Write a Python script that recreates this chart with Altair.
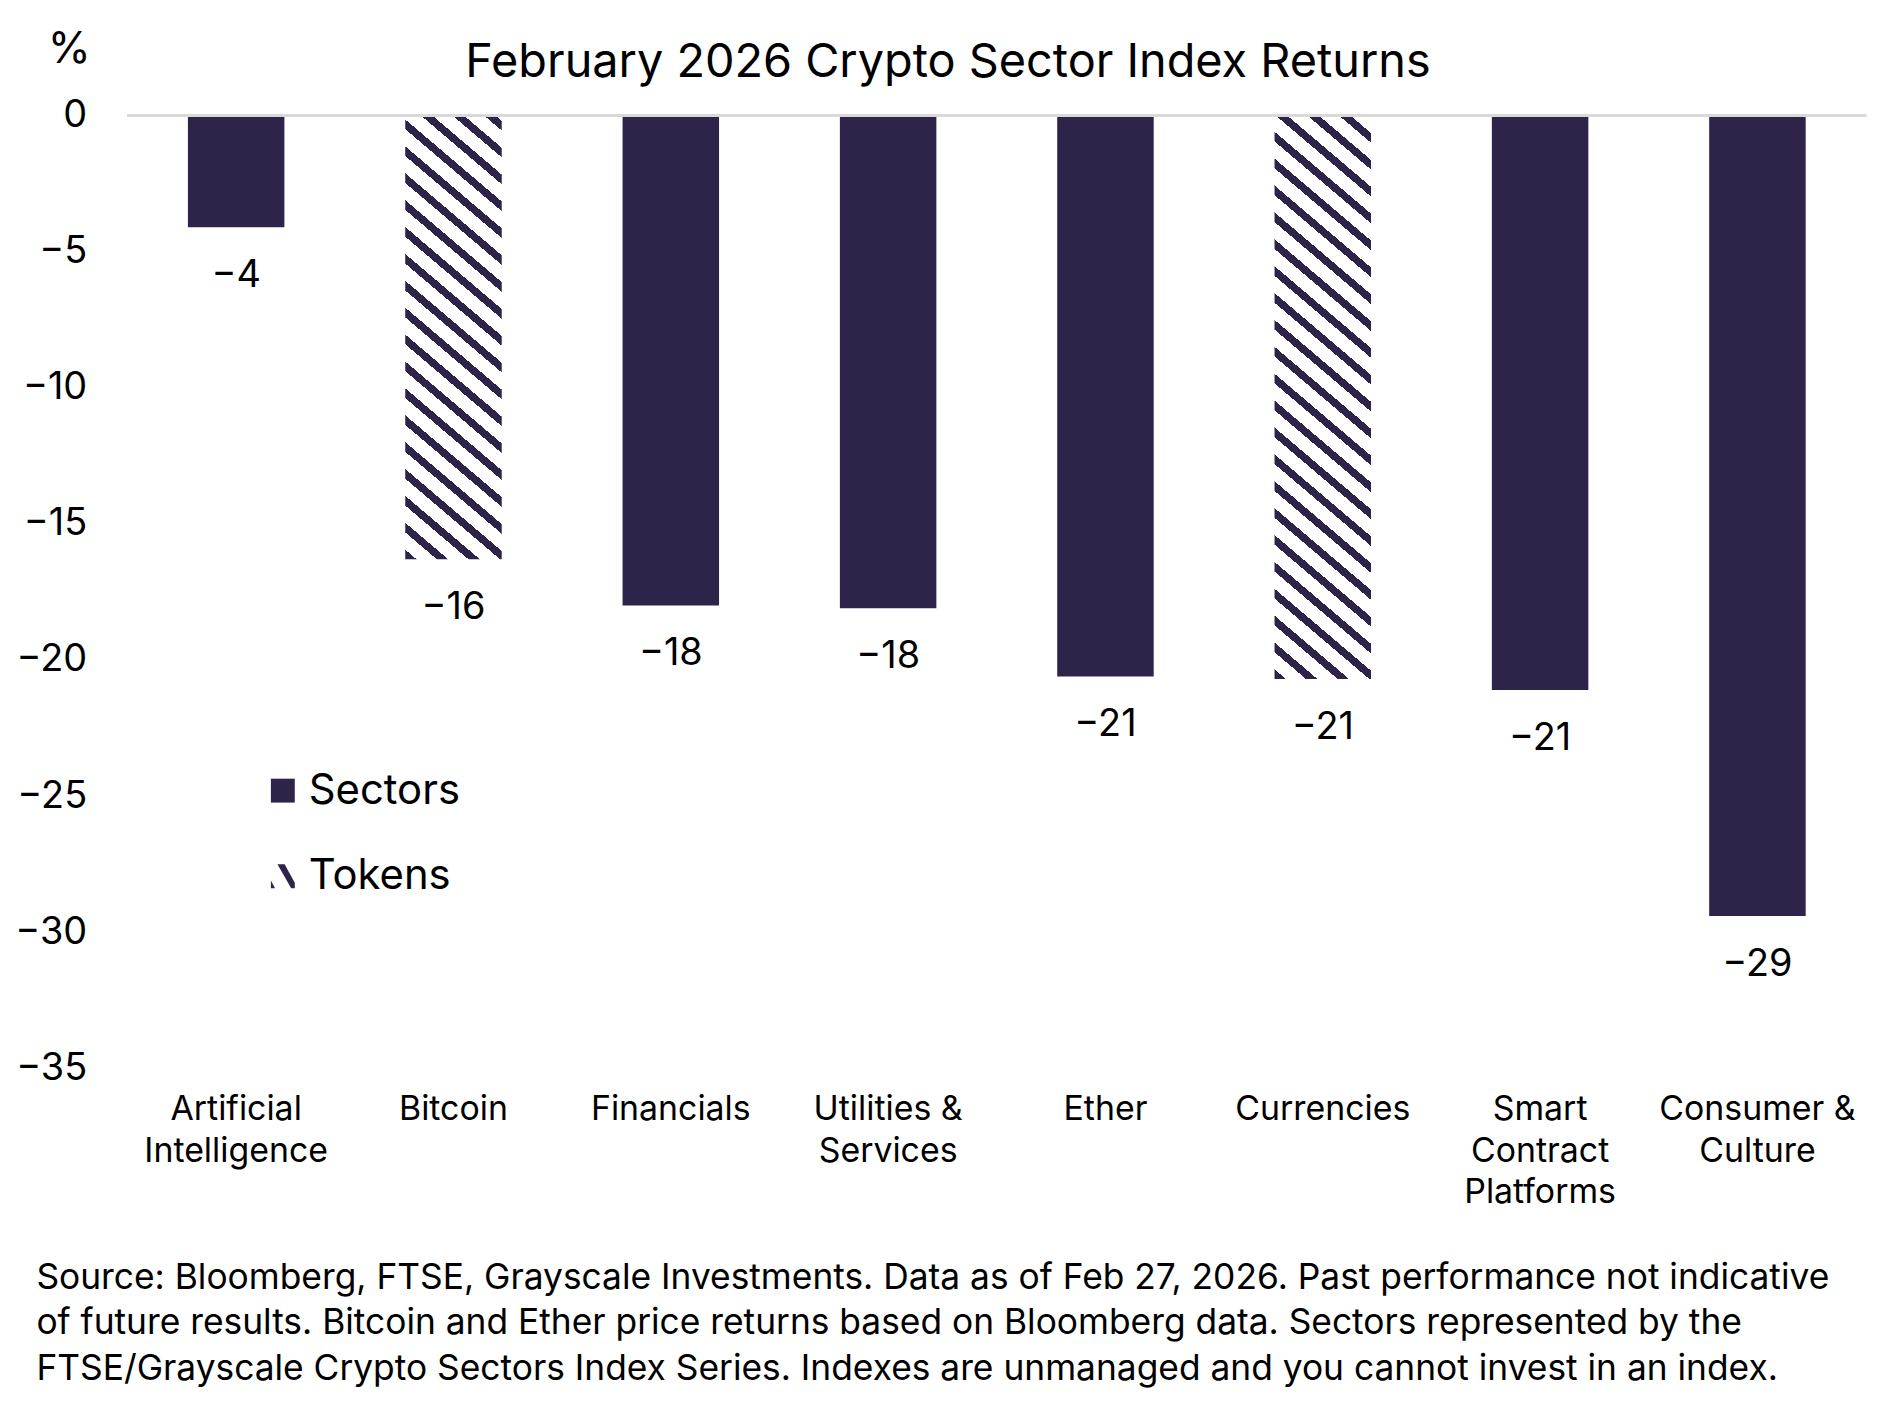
import json
import altair as alt
import pandas as pd

# ---------------- data ----------------
categories = [
    "Artificial Intelligence", "Bitcoin", "Financials", "Utilities & Services",
    "Ether", "Currencies", "Smart Contract Platforms", "Consumer & Culture",
]
label_lines = [
    ["Artificial", "Intelligence"], ["Bitcoin"], ["Financials"], ["Utilities &", "Services"],
    ["Ether"], ["Currencies"], ["Smart", "Contract", "Platforms"], ["Consumer &", "Culture"],
]
returns = [-4.1, -16.3, -18.0, -18.1, -20.6, -20.7, -21.1, -29.4]
kinds = ["Sectors", "Tokens", "Sectors", "Sectors", "Sectors", "Tokens", "Sectors", "Sectors"]
legend_items = ["Sectors", "Tokens"]
y_ticks = [-35, -30, -25, -20, -15, -10, -5, 0]
title_text = "February 2026 Crypto Sector Index Returns"
source_lines = [
    "Source: Bloomberg, FTSE, Grayscale Investments. Data as of Feb 27, 2026. Past performance not indicative",
    "of future results. Bitcoin and Ether price returns based on Bloomberg data. Sectors represented by the",
    "FTSE/Grayscale Crypto Sectors Index Series. Indexes are unmanaged and you cannot invest in an index.",
]

df = pd.DataFrame({"category": categories, "value": returns, "kind": kinds})

# ---------------- styles ----------------
FONT = "Inter"
DARK = "#2e2449"
PLOT_W = 1746
PLOT_H = 957
Y_MIN = -35
PAD_INNER = 0.556
BAR_W = PLOT_W / len(categories) * (1 - PAD_INNER)
STRIPE_PERIOD = 27.0   # vertical px between stripes
STRIPE_SLOPE = 0.85    # down per right
STRIPE_DARK = 0.36


def hatch_gradient(w, h):
    k = STRIPE_SLOPE * w / h
    a = (k + 1) / (k * k + 1)
    n = (h + STRIPE_SLOPE * w) / STRIPE_PERIOD
    stops = []
    i = 0
    while i / n < 1:
        s0 = i / n
        s1 = min(1.0, (i + STRIPE_DARK) / n)
        s2 = min(1.0, (i + 1) / n)
        stops += [
            alt.GradientStop(offset=s0, color=DARK),
            alt.GradientStop(offset=s1, color=DARK),
            alt.GradientStop(offset=s1, color="#ffffff"),
            alt.GradientStop(offset=s2, color="#ffffff"),
        ]
        i += 1
    return alt.LinearGradient(gradient="linear", stops=stops,
                              x1=0, y1=1, x2=k * a, y2=1 - a)


label_expr = "({" + ",".join(
    f"{json.dumps(c)}: {json.dumps(l)}" for c, l in zip(categories, label_lines)
) + "})[datum.value]"

x_enc = alt.X(
    "category:N", sort=categories,
    scale=alt.Scale(paddingInner=PAD_INNER, paddingOuter=PAD_INNER / 2),
    axis=alt.Axis(
        title=source_lines, titleFont=FONT, titleFontSize=35.5, titleFontWeight="normal",
        titleColor="#000000", titleAlign="left", titleBaseline="top", titleAngle=0,
        titleX=-92, titleY=193, titleLineHeight=45.5,
        labelExpr=label_expr, labelAngle=0, labelFont=FONT, labelFontSize=34,
        labelColor="#000000", labelBaseline="top", labelLineHeight=42,
        labelPadding=24, labelLimit=0, labelOverlap=False,
        ticks=False, domain=False, grid=False,
    ),
)
y_enc = alt.Y(
    "value:Q",
    scale=alt.Scale(domain=[Y_MIN, 0], nice=False, zero=True),
    axis=alt.Axis(
        values=y_ticks, title="%", titleAngle=0, titleX=-59, titleY=-66,
        titleAlign="center", titleBaseline="middle", titleFont=FONT,
        titleFontSize=44, titleFontWeight="normal", titleColor="#000000",
        labelFont=FONT, labelFontSize=38, labelColor="#000000", labelPadding=41,
        ticks=False, domain=False, grid=False, format="d",
    ),
)

base = alt.Chart(df)

solid = base.transform_filter(alt.datum.kind == "Sectors").mark_bar(
    color=DARK
).encode(x=x_enc, y=y_enc)

layers = [solid]
for cat, val, kind in zip(categories, returns, kinds):
    if kind != "Tokens":
        continue
    h = abs(val) / abs(Y_MIN) * PLOT_H
    layers.append(
        base.transform_filter(alt.datum.category == cat)
        .mark_bar(fill=hatch_gradient(BAR_W, h), strokeWidth=0)
        .encode(x=x_enc, y=y_enc)
    )

labels = base.mark_text(
    dy=49, baseline="middle", align="center", font=FONT, fontSize=38, color="#000000"
).encode(x=x_enc, y=y_enc, text=alt.Text("value:Q", format=".0f"))

zero_line = base.mark_rule(color="#d9d9d9", strokeWidth=3).encode(y=alt.datum(0))

tokens_path = ("M-0.45,-1 L0.15,-1 L1,0.55 L1,1 L0.7,1 Z "
               "M-1,0.35 L-0.65,1 L-1,1 Z")
legend_cfg = dict(
    orient="none", legendX=135, legendY=657, title=None, padding=0,
    labelFont=FONT, labelFontSize=42, labelColor="#000000", labelOffset=5,
    symbolSize=576, rowPadding=44, symbolStrokeWidth=0,
)
legend_layer = base.transform_filter("false").mark_point(filled=True, opacity=1).encode(
    color=alt.Color(
        "kind:N",
        scale=alt.Scale(domain=legend_items, range=[DARK, DARK]),
        legend=alt.Legend(**legend_cfg),
    ),
    shape=alt.Shape(
        "kind:N",
        scale=alt.Scale(domain=legend_items, range=["square", tokens_path]),
        legend=alt.Legend(**legend_cfg),
    ),
)

chart = alt.layer(*layers, labels, zero_line, legend_layer).properties(
    width=PLOT_W,
    height=PLOT_H,
    title=alt.TitleParams(
        title_text, font=FONT, fontSize=47, fontWeight="normal", color="#000000",
        anchor="middle", frame="group", dx=-49, offset=-106, baseline="bottom",
    ),
    autosize=alt.AutoSizeParams(type="none"),
    padding={"left": 120, "top": 105, "right": 22, "bottom": 330},
).configure(background="#ffffff").configure_view(stroke=None)

chart.save("out.html", embed_options={"renderer": "svg", "actions": False})
